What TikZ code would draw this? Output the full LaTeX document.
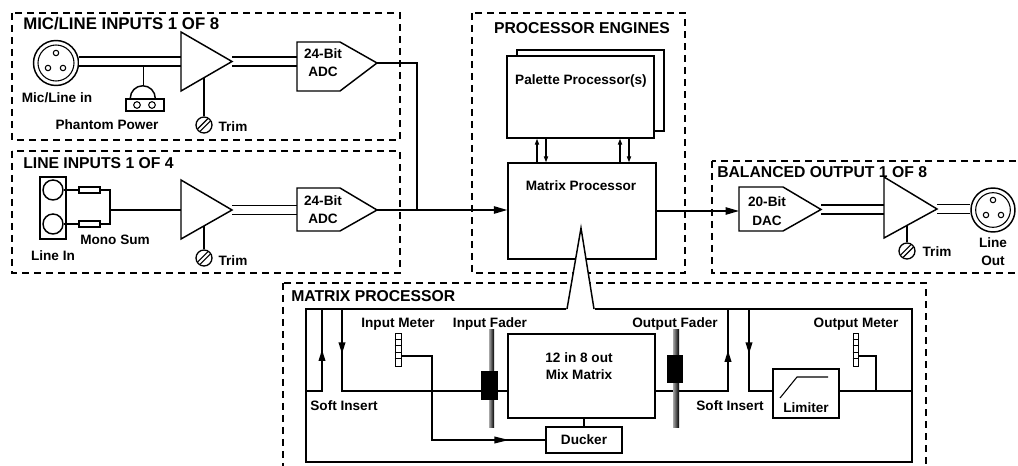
\documentclass[tikz,border=0pt]{standalone}
\usepackage{fontspec}
\setmainfont{Liberation Sans}
\usetikzlibrary{arrows.meta,fit,calc}
\tikzstyle{zone} = [draw=black, line width=1.1pt, dash pattern=on 5.25pt off 3.75pt]
\tikzstyle{blk} = [draw=black, line width=1.1pt, fill=white, inner sep=0pt, rectangle]
\tikzstyle{wire} = [draw=black, line width=1.1pt]
\tikzstyle{bal} = [draw=black, line width=1.1pt, double=white, double distance=5.8pt]
\tikzstyle{lbl} = [font=\bfseries\fontsize{10.2}{12}\selectfont, inner sep=0pt, anchor=base]
\tikzstyle{ttl} = [font=\bfseries\fontsize{11.8}{14}\selectfont, inner sep=0pt, anchor=base west]
\tikzstyle{sig} = [wire, -{Triangle[length=10pt,width=5.5pt]}]
\tikzstyle{tiny} = [wire, line width=0.8pt, -{Triangle[length=4.5pt,width=3.2pt]}]
\tikzstyle{half} = [wire, -{Triangle[length=8.5pt,width=5pt]}]
\tikzstyle{halfl} = [wire, -{Triangle[length=11pt,width=5pt]}]
\tikzstyle{knob} = [circle, draw=black, line width=1pt, fill=white, minimum size=12pt, inner sep=0pt]

\begin{document}
\begin{tikzpicture}[x=0.75pt, y=-0.75pt]
\useasboundingbox (0,0) rectangle (1018,466);
\clip (0,0) rectangle (1018,466);

% dashed zones
\draw[zone] (12,13) rectangle (400,140);
\draw[zone] (12,151) rectangle (400,273);
\draw[zone] (472,13) rectangle (685,273);
\draw[zone] (712,161) rectangle (1040,273);
\draw[zone] (283,283) rectangle (926,490);

% ---- mic/line input
\node[ttl, font=\bfseries\fontsize{12.6}{14}\selectfont] (micttl) at (23,30) {MIC/LINE INPUTS 1 OF 8};
\coordinate (ampA-in) at (181,61.5);
\coordinate (ampA-out) at (232,61.5);
\coordinate (adcA-in) at (297,61.5);
\coordinate (adcA-out) at (377,63);
\coordinate (phtap) at (143.5,66);
\coordinate (phtop) at (143.5,86.5);
\coordinate (trimA-top) at (204,77.7);
\node[circle, draw, line width=1.1pt, fill=white, minimum size=33.75pt, inner sep=0pt] (micin) at (56,63) {};
\node[circle, draw, line width=0.8pt, minimum size=27pt, inner sep=0pt] (micinner) at (micin) {};
\foreach \dx/\dy in {0/-10, -8/5, 7/5}
  \draw[line width=0.8pt] ($(micin)+(\dx,\dy)$) circle (2.7);
\draw[bal] (micin.east |- ampA-in) -- (ampA-in);
\draw[bal] (ampA-out) -- (adcA-in);
\draw[wire] (phtap) -- (phtop);
\node[blk, fit={(126,99) (164,111)}] (phbox) {};
\draw[wire] (phbox.north west) ++(5,0) arc[start angle=180, end angle=360, radius=12.5];
\draw[line width=0.8pt] (137,105) circle (3.3) (152,105) circle (3.3);
\draw[wire, fill=white] (181,32) -- (181,91) -- (ampA-out) -- cycle;
\node[knob] (trimA) at (204,125) {};
\draw[wire] (trimA-top) -- (trimA);
\draw[line width=0.9pt] ($(trimA)+(-3.8,6.2)$) -- ($(trimA)+(6.2,-3.8)$)
  ($(trimA)+(-6.2,3.8)$) -- ($(trimA)+(3.8,-6.2)$);
\draw[wire, fill=white] (297,42) -- (340,42) -- (adcA-out) -- (340,91) -- (297,91) -- cycle;
\node[lbl] (adcA-t) at (323,59) {24-Bit};
\node[lbl] (adcA-b) at (323,77) {ADC};
\node[lbl] (micinlbl) at (57,103) {Mic/Line in};
\node[lbl] (phlbl) at (107,130) {Phantom Power};
\node[lbl] (trimAlbl) at (233,132) {Trim};

% ---- line input
\node[ttl] (linttl) at (23,169) {LINE INPUTS 1 OF 4};
\coordinate (ampB-in) at (181,210);
\coordinate (ampB-out) at (232,210);
\coordinate (adcB-in) at (297,210);
\coordinate (adcB-out) at (377,210);
\coordinate (sum) at (110,210);
\coordinate (join) at (417,210);
\coordinate (trimB-top) at (204,225.7);
\node[blk, fit={(40,177) (66,239)}] (jack) {};
\node[circle, draw, line width=1.1pt, minimum size=15pt, inner sep=0pt] (jackL) at (53,190) {};
\node[circle, draw, line width=1.1pt, minimum size=15pt, inner sep=0pt] (jackR) at (53,224) {};
\node[blk, fit={(79,187) (100,193)}] (resL) {};
\node[blk, fit={(79,221) (100,227)}] (resR) {};
\draw[wire] (jackL.east) -- (resL.west);
\draw[wire] (jackR.east) -- (resR.west);
\draw[wire] (resL.east) -| (sum) |- (resR.east);
\draw[wire] (sum) -- (ampB-in);
\draw[bal] (ampB-out) -- (adcB-in);
\draw[wire, fill=white] (181,180) -- (181,239) -- (ampB-out) -- cycle;
\node[knob] (trimB) at (204,258) {};
\draw[wire] (trimB-top) -- (trimB);
\draw[line width=0.9pt] ($(trimB)+(-3.8,6.2)$) -- ($(trimB)+(6.2,-3.8)$)
  ($(trimB)+(-6.2,3.8)$) -- ($(trimB)+(3.8,-6.2)$);
\draw[wire, fill=white] (297,188) -- (340,188) -- (adcB-out) -- (340,231) -- (297,231) -- cycle;
\node[lbl] (adcB-t) at (323,206) {24-Bit};
\node[lbl] (adcB-b) at (323,224) {ADC};
\node[lbl] (monolbl) at (115,245) {Mono Sum};
\node[lbl] (jacklbl) at (53,261) {Line In};
\node[lbl] (trimBlbl) at (233,266) {Trim};

% ---- processor engines
\node[ttl, anchor=base] (pettl) at (582,34) {PROCESSOR ENGINES};
\node[blk] (palback) [fit={(517,50) (664,131)}] {};
\node[blk] (pal) [fit={(507,56) (654,138)}] {};
\node[lbl] (pallbl) at (581,85) {Palette Processor(s)};
\node[blk] (mp) [fit={(508,163) (656,259)}] {};
\node[lbl] (mplbl) at (581,191) {Matrix Processor};
\foreach \up/\dn in {537/546, 620/629}{
  \path (\up,0) coordinate (u) (\dn,0) coordinate (d);
  \draw[tiny] (mp.north -| u) -- (pal.south -| u);
  \draw[tiny] (pal.south -| d) -- (mp.north -| d);
}
\draw[wire] (adcA-out) -| (join);
\draw[sig] (adcB-out) -- (adcB-out -| mp.west);

% ---- balanced output
\node[ttl] (outttl) at (717,178) {BALANCED OUTPUT 1 OF 8};
\coordinate (dac-in) at (739,210);
\coordinate (dac-out) at (821,209.5);
\coordinate (ampC-in) at (884,209.5);
\coordinate (ampC-out) at (937,209);
\coordinate (trimC-top) at (907,225.4);
\draw[sig] (mp.east) -- (mp.east -| dac-in);
\node[circle, draw, line width=1.1pt, fill=white, minimum size=33pt, inner sep=0pt] (xlrout) at (993,210) {};
\node[circle, draw, line width=0.8pt, minimum size=26pt, inner sep=0pt] (xlrinner) at (xlrout) {};
\foreach \dx/\dy in {0/-10, -7/5, 8/5}
  \draw[line width=0.8pt] ($(xlrout)+(\dx,\dy)$) circle (2.7);
\draw[bal] (dac-out) -- (ampC-in);
\draw[bal] (ampC-out) -- (xlrout.west |- ampC-out);
\draw[wire, fill=white] (739,187) -- (783,187) -- (dac-out) -- (783,231) -- (739,231) -- cycle;
\draw[wire, fill=white] (884,177) -- (884,238) -- (ampC-out) -- cycle;
\node[knob] (trimC) at (907,251) {};
\draw[wire] (trimC-top) -- (trimC);
\draw[line width=0.9pt] ($(trimC)+(-3.8,6.2)$) -- ($(trimC)+(6.2,-3.8)$)
  ($(trimC)+(-6.2,3.8)$) -- ($(trimC)+(3.8,-6.2)$);
\node[lbl] (dac-t) at (767,207) {20-Bit};
\node[lbl] (dac-b) at (767,226) {DAC};
\node[lbl] (trimClbl) at (937,257) {Trim};
\node[lbl] (xlrlbl1) at (993,248) {Line};
\node[lbl] (xlrlbl2) at (993,266) {Out};

% ---- matrix processor detail
\node[ttl] (mxttl) at (291,302) {MATRIX PROCESSOR};
\node[blk] (mxbox) [fit={(306,309) (912,462)}] {};
\fill[white] (566,311) -- (581,228) -- (595,311) -- cycle;
\draw[wire] (567,309) -- (581,228) -- (594,309);
\node[blk] (mix) [fit={(508,334) (655,418)}] {};
\node[blk] (ducker) [fit={(546,427) (622,453)}] {};
\node[blk] (lim) [fit={(773,369) (839,418)}] {};
\coordinate (siL-up) at (322,391);
\coordinate (siL-dn) at (342,391);
\coordinate (siR-up) at (728,391);
\coordinate (siR-dn) at (749,391);
\coordinate (imtap) at (401,356);
\coordinate (dkcorner) at (432,440);
\coordinate (omtap) at (876,391);
\coordinate (omturn) at (876,356);
% soft insert in
\draw[wire] (mxbox.west |- siL-up) -- (siL-up) -- (siL-up |- mxbox.north);
\draw[half] (siL-up) -- ($(siL-up)!0.5!(siL-up |- mxbox.north)$);
\draw[wire] (siL-dn |- mxbox.north) -- (siL-dn) -- (mix.west |- siL-dn);
\draw[half] (siL-dn |- mxbox.north) -- ($(siL-dn |- mxbox.north)!0.55!(siL-dn)$);
% ducker key
\draw[wire] (imtap) -| (dkcorner) -- (ducker.west);
\draw[halfl] (dkcorner) -- ($(dkcorner)!0.68!(ducker.west)$);
\draw[wire] (mix.south -| ducker.north) -- (ducker.north);
% soft insert out
\draw[wire] (mix.east |- siR-up) -- (siR-up) -- (siR-up |- mxbox.north);
\draw[half] (siR-up) -- ($(siR-up)!0.49!(siR-up |- mxbox.north)$);
\draw[wire] (siR-dn |- mxbox.north) -- (siR-dn) -- (lim.west |- siR-dn);
\draw[half] (siR-dn |- mxbox.north) -- ($(siR-dn |- mxbox.north)!0.55!(siR-dn)$);
\draw[wire] (lim.east |- siR-dn) -- (mxbox.east |- siR-dn);
\draw[wire] (omtap) -- (omturn) -- (omturn -| 858,0);
\draw[line width=0.8pt] (780,398) -- (797,377) -- (828,377);
% meters
\node[draw, line width=0.7pt, fill=white, inner sep=0pt, fit={(395,333) (401,366)}] (inmeter) {};
\node[draw, line width=0.7pt, fill=white, inner sep=0pt, fit={(853,333) (858,366)}] (outmeter) {};
\foreach \k in {1,...,4}{
  \draw[line width=0.7pt] (inmeter.north west) ++(0,6.6*\k) -- ++(6,0);
  \draw[line width=0.7pt] (outmeter.north west) ++(0,6.6*\k) -- ++(5,0);
}
% faders
\node[left color=black!35, right color=black, inner sep=0pt, fit={(489,330) (494,428)}] (infader) {};
\node[fill=black, inner sep=0pt, fit={(481,371) (498,400)}] (inknob) {};
\node[left color=black!35, right color=black, inner sep=0pt, fit={(673,330) (679,428)}] (outfader) {};
\node[fill=black, inner sep=0pt, fit={(667,355) (683,383)}] (outknob) {};
% labels
\node[lbl] (imlbl) at (398,328) {Input Meter};
\node[lbl] (iflbl) at (490,328) {Input Fader};
\node[lbl] (oflbl) at (675,328) {Output Fader};
\node[lbl] (omlbl) at (856,328) {Output Meter};
\node[lbl] (siLlbl) at (344,411) {Soft Insert};
\node[lbl] (siRlbl) at (730,411) {Soft Insert};
\node[lbl] (mixlbl1) at (579,363) {12 in 8 out};
\node[lbl] (mixlbl2) at (579,380) {Mix Matrix};
\node[lbl] (dklbl) at (584,445) {Ducker};
\node[lbl] (limlbl) at (806,413) {Limiter};
\end{tikzpicture}
\end{document}
